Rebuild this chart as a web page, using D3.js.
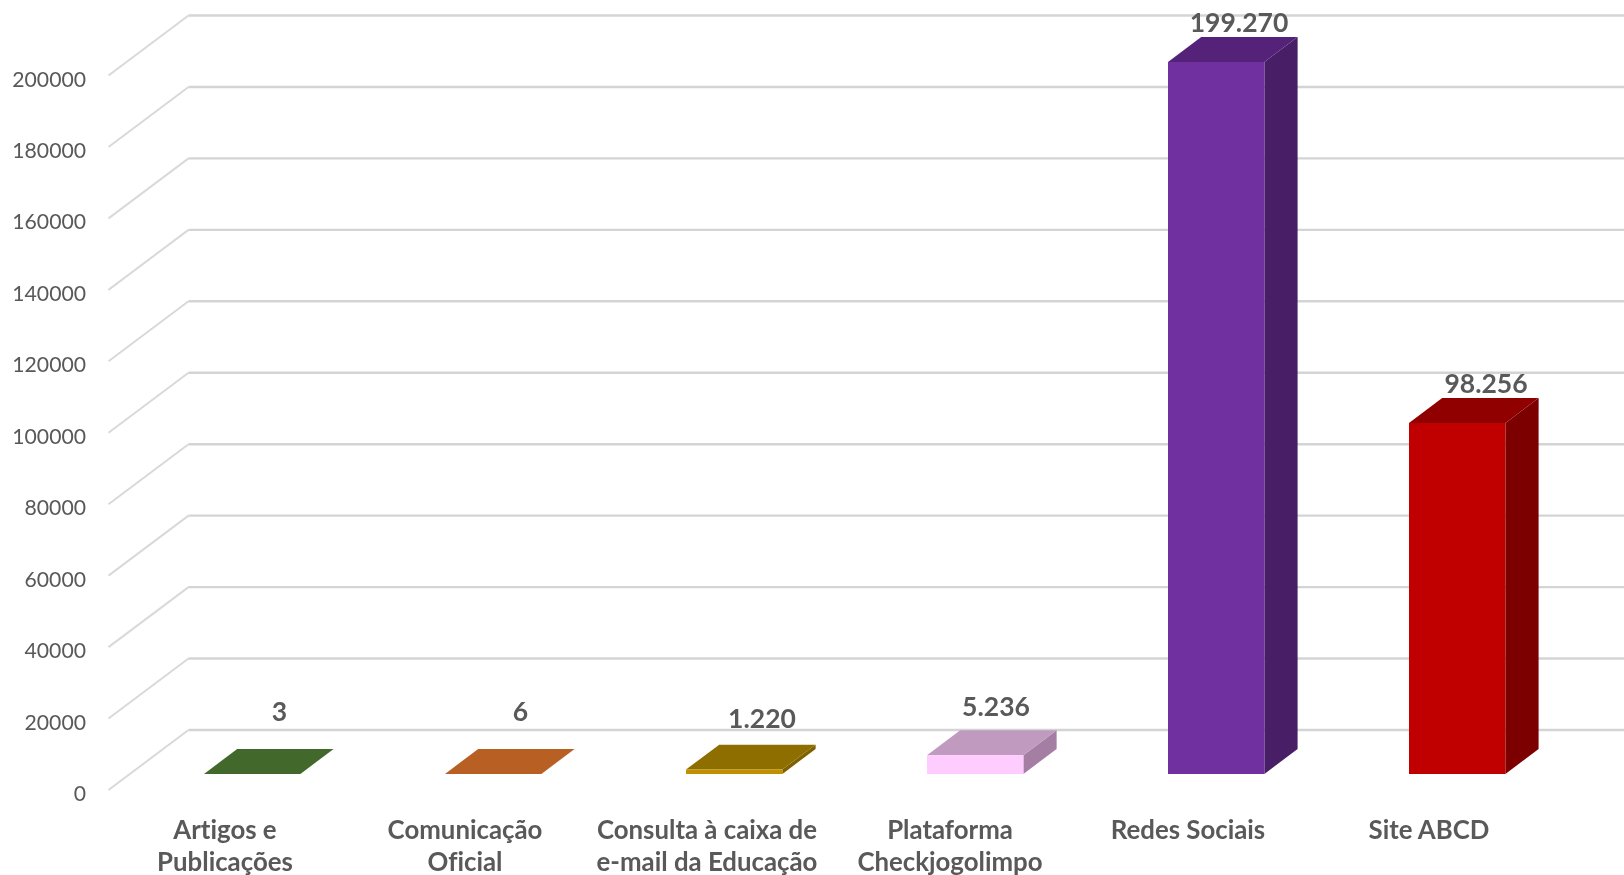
<!DOCTYPE html>
<html><head><meta charset="utf-8">
<script src="https://cdn.jsdelivr.net/npm/d3@7/dist/d3.min.js"></script>
<style>html,body{margin:0;padding:0;background:#fff;overflow:hidden}svg{display:block;filter:blur(0.4px)}text{font-variant-ligatures:none}</style>
</head><body><div id="chart"></div>
<script>
const categories = [["Artigos e","Publicações"],["Comunicação","Oficial"],["Consulta à caixa de","e-mail da Educação"],["Plataforma","Checkjogolimpo"],["Redes Sociais"],["Site ABCD"]];
const values = [3,6,1220,5236,199270,98256];
const valueLabels = ["3","6","1.220","5.236","199.270","98.256"];
const yTicks = [0,20000,40000,60000,80000,100000,120000,140000,160000,180000,200000];
const frontColors = ["#548235","#C55A11","#BF9000","#FFCCFF","#7030A0","#C00000"];
const topColors = ["#43682B","#B85F23","#8F6E00","#C09ABF","#542379","#900000"];
const sideColors = ["#375623","#843C0C","#7F6000","#A57EA4","#481F67","#7D0000"];
const labelLift = [36,36,25,23,13,13];
const labelShift = [-5.5,-5.5,-5,-12,-10,-4];
const categoryShift = [-4,-5,-4,-2,-5,-5];

const W=1624,H=875;
const depthX=80,depthY=60;
const svg=d3.select("#chart").append("svg").attr("width",W).attr("height",H);
const y=d3.scaleLinear().domain([0,200000]).range([790,75.5]);
const x=d3.scaleBand().domain(d3.range(categories.length)).range([108.5,108.5+241*6]).paddingInner(0.6).paddingOuter(0.3);
const proj=(px,py,d)=>[px+d*depthX,py-d*depthY];
const line=d3.line();

const grid=svg.append("g");
yTicks.forEach(t=>{
  const a=proj(x.range()[0],y(t),0),b=proj(x.range()[0],y(t),1);
  grid.append("path").attr("d",line([a,b])).attr("fill","none").attr("stroke","#D9D9D9").attr("stroke-width",2);
  grid.append("path").attr("d",line([b,[W,b[1]]])).attr("fill","none").attr("stroke","#D4D4D4").attr("stroke-width",2.4);
});

const axis=svg.append("g").attr("transform","translate(86,3.5)").call(d3.axisLeft(y).tickValues(yTicks).tickSize(0).tickPadding(0).tickFormat(d3.format("d")));
axis.select(".domain").remove();
axis.selectAll("text").attr("font-family","Lato").attr("font-size",21.2).attr("fill","#595959").attr("dy","0.33em");

const d0=0.285,d1=0.7;
const bars=svg.append("g").attr("transform","translate(0.4,1)");
values.forEach((v,i)=>{
  const l=x(i),r=l+x.bandwidth(),t=y(v),b=y(0);
  const poly=(pts,c)=>bars.append("path").attr("d",line(pts)+"Z").attr("fill",c);
  const A=(px,py,d)=>proj(px,py,d);
  poly([A(r,b,d0),A(r,b,d1),A(r,t,d1),A(r,t,d0)],sideColors[i]);
  poly([A(l,t,d0),A(r,t,d0),A(r,t,d1),A(l,t,d1)],topColors[i]);
  poly([A(l,b,d0),A(r,b,d0),A(r,t,d0),A(l,t,d0)],frontColors[i]);
  const c=A((l+r)/2,t,d1);
  svg.append("text").attr("x",c[0]+labelShift[i]).attr("y",c[1]-labelLift[i]).attr("dy","0.35em")
    .attr("text-anchor","middle").attr("font-family","Lato").attr("font-weight",700).attr("font-size",26.5)
    .attr("fill","#595959").text(valueLabels[i]);
});

categories.forEach((lines,i)=>{
  const cx=x(i)+x.bandwidth()/2+categoryShift[i];
  const t=svg.append("text").attr("text-anchor","middle").attr("font-family","Lato").attr("font-weight",700).attr("font-size",25.8).attr("fill","#595959");
  lines.forEach((s,j)=>t.append("tspan").attr("x",cx).attr("y",838.5+j*32).text(s));
});
</script></body></html>
